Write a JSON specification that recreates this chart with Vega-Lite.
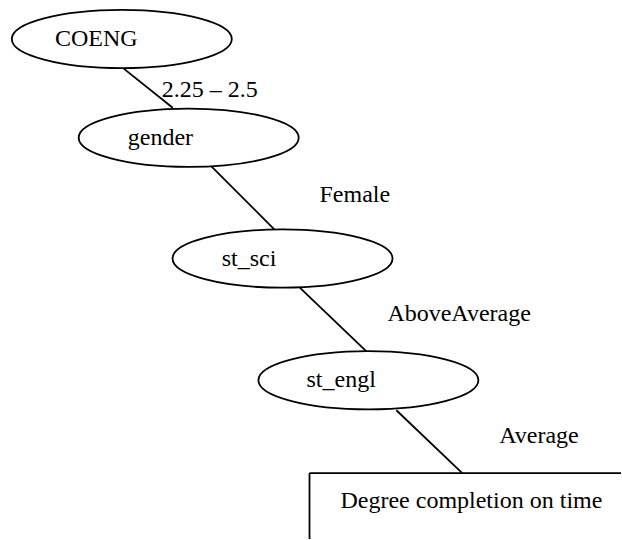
{
  "$schema": "https://vega.github.io/schema/vega-lite/v6.json",
  "width": 622,
  "height": 540,
  "autosize": {"type": "fit", "contains": "padding"},
  "padding": 0,
  "background": "white",
  "config": {"view": {"stroke": null}},
  "datasets": {
    "edges": [
      {"x": 123, "y": 68, "x2": 173, "y2": 108},
      {"x": 212, "y": 167, "x2": 275, "y2": 230},
      {"x": 300, "y": 288, "x2": 367, "y2": 352},
      {"x": 397, "y": 411, "x2": 463, "y2": 474},
      {"x": 310, "y": 474, "x2": 622, "y2": 474},
      {"x": 310, "y": 474, "x2": 310, "y2": 540}
    ],
    "nodes": [
      {"node": "COENG", "x": 122, "y": 39, "tx": 55},
      {"node": "gender", "x": 189, "y": 138, "tx": 128},
      {"node": "st_sci", "x": 283, "y": 259, "tx": 222},
      {"node": "st_engl", "x": 369, "y": 381, "tx": 307}
    ],
    "labels": [
      {"text": "2.25 – 2.5", "x": 162, "y": 90},
      {"text": "Female", "x": 320, "y": 195},
      {"text": "AboveAverage", "x": 388, "y": 315},
      {"text": "Average", "x": 500, "y": 437},
      {"text": "Degree completion on time", "x": 341, "y": 502}
    ]
  },
  "layer": [
    {
      "data": {"name": "edges"},
      "mark": {"type": "rule", "color": "black", "strokeWidth": 1.8},
      "encoding": {
        "x": {"field": "x", "type": "quantitative", "scale": {"domain": [0, 622], "nice": false, "zero": false}, "axis": null},
        "y": {"field": "y", "type": "quantitative", "scale": {"domain": [0, 540], "nice": false, "zero": false, "reverse": true}, "axis": null},
        "x2": {"field": "x2"},
        "y2": {"field": "y2"}
      }
    },
    {
      "data": {"name": "nodes"},
      "mark": {"type": "point", "shape": "M-1,0A1,0.265,0,1,0,1,0A1,0.265,0,1,0,-1,0Z", "size": 48400, "filled": true, "fill": "white", "stroke": "black", "strokeWidth": 1.8, "opacity": 1},
      "encoding": {
        "x": {"field": "x", "type": "quantitative"},
        "y": {"field": "y", "type": "quantitative"}
      }
    },
    {
      "data": {"name": "nodes"},
      "mark": {"type": "text", "align": "left", "baseline": "middle", "font": "Times New Roman, Liberation Serif, serif", "fontSize": 24, "color": "black"},
      "encoding": {
        "x": {"field": "tx", "type": "quantitative"},
        "y": {"field": "y", "type": "quantitative"},
        "text": {"field": "node"}
      }
    },
    {
      "data": {"name": "labels"},
      "mark": {"type": "text", "align": "left", "baseline": "middle", "font": "Times New Roman, Liberation Serif, serif", "fontSize": 24, "color": "black"},
      "encoding": {
        "x": {"field": "x", "type": "quantitative"},
        "y": {"field": "y", "type": "quantitative"},
        "text": {"field": "text"}
      }
    }
  ]
}
